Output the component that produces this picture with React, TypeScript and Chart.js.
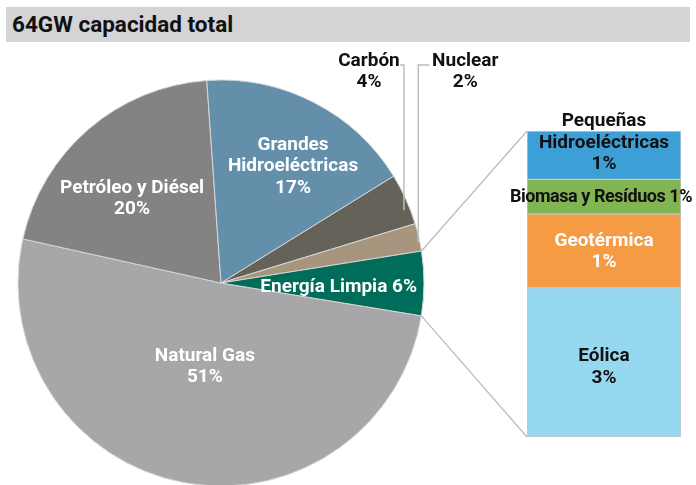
import React, { useEffect, useRef } from 'react';
import { Chart, registerables } from 'chart.js';
Chart.register(...registerables);

const titleText = '64GW capacidad total';

const pieCategories = ['Natural Gas', 'Petróleo y Diésel', 'Grandes Hidroeléctricas', 'Carbón', 'Nuclear', 'Energía Limpia'];
const pieValues = [50.9, 20.4, 17.3, 4.1, 2.2, 5.1];
const pieLabels = [['Natural Gas', '51%'], ['Petróleo y Diésel', '20%'], ['Grandes', 'Hidroeléctricas', '17%'], ['Carbón', '4%'], ['Nuclear', '2%'], ['Energía Limpia 6%']];
const pieColors = ['#a7a7a9', '#858284', '#648fab', '#646259', '#a8957e', '#006c5a'];

const barCategories = ['Eólica', 'Geotérmica', 'Biomasa y Resíduos', 'Pequeñas Hidroeléctricas'];
const barValues = [2.93, 1.44, 0.68, 0.95];
const barLabels = [['Eólica', '3%'], ['Geotérmica', '1%'], ['Biomasa y Resíduos 1%'], ['Pequeñas', 'Hidroeléctricas', '1%']];
const barColors = ['#96d8f0', '#f59b44', '#82b452', '#3ca0d7'];

const FONT = 'Roboto, "Noto Sans", sans-serif';
const W = 696;
const H = 485;

// label placement styles (relative to each arc)
const piePlace = [
  { dA: 0, r: 0.42, color: '#ffffff' },
  { dA: -5.9, r: 0.603, color: '#ffffff' },
  { dA: 4.6, r: 0.675, color: '#ffffff' },
  { dA: 2.66, r: 0.97, color: '#111111', outside: -1, seg: 4, off: 35 },
  { dA: 1.2, r: 0.993, color: '#111111', outside: 1, seg: 11, off: 47 },
  { dA: 1.8, r: 0.58, color: '#ffffff' },
];
const barPlace = [
  { dy: 5, dx: 0, color: '#111111', size: 19, ls: '0px' },
  { dy: 1, dx: 0, color: '#ffffff', size: 19, ls: '0px' },
  { dy: 1, dx: -3, color: '#111111', size: 18, ls: '-0.45px' },
  { dy: -12, dx: 0, color: '#111111', size: 19, ls: '0px' },
];

export default function App() {
  const pieRef = useRef<HTMLCanvasElement | null>(null);
  const barRef = useRef<HTMLCanvasElement | null>(null);

  useEffect(() => {
    const pieLabelPlugin = {
      id: 'pieLabels',
      afterDatasetsDraw(chart: any) {
        const ctx = chart.ctx;
        const meta = chart.getDatasetMeta(0);
        ctx.save();
        ctx.textAlign = 'center';
        ctx.textBaseline = 'middle';
        meta.data.forEach((arc: any, i: number) => {
          const p = arc.getProps(['x', 'y', 'startAngle', 'endAngle', 'outerRadius'], true);
          const pl = piePlace[i];
          const a = (p.startAngle + p.endAngle) / 2 + (pl.dA * Math.PI) / 180;
          const px = p.x + Math.cos(a) * p.outerRadius * pl.r;
          const py = p.y + Math.sin(a) * p.outerRadius * pl.r;
          const lines = pieLabels[i];
          ctx.font = `bold 19px ${FONT}`;
          ctx.fillStyle = pl.color;
          if (pl.outside) {
            const topY = 65;
            ctx.strokeStyle = '#bdbdbd';
            ctx.lineWidth = 1.5;
            ctx.beginPath();
            ctx.moveTo(px, py);
            ctx.lineTo(px, topY);
            ctx.lineTo(px + pl.outside * pl.seg, topY);
            ctx.stroke();
            const cx = px + pl.outside * pl.off;
            lines.forEach((t, k) => ctx.fillText(t, cx, 61 + k * 21.5));
          } else {
            const lh = 21.5;
            lines.forEach((t, k) => ctx.fillText(t, px, py + (k - (lines.length - 1) / 2) * lh));
          }
        });
        ctx.restore();
      },
    };

    const pie = new Chart(pieRef.current as HTMLCanvasElement, {
      type: 'pie',
      data: {
        labels: pieCategories,
        datasets: [
          {
            data: pieValues,
            backgroundColor: pieColors,
            borderColor: '#d6d6d6',
            borderWidth: 1,
            clip: false as any,
          },
        ],
      },
      options: {
        responsive: false,
        animation: false,
        radius: 203,
        rotation: 99.3,
        layout: { padding: { left: 11, right: 265, top: 83, bottom: 2 } },
        plugins: { legend: { display: false }, tooltip: { enabled: false } },
        events: [],
      } as any,
      plugins: [pieLabelPlugin],
    });

    const barPlugin = {
      id: 'barExtras',
      beforeDatasetsDraw(chart: any) {
        const ctx = chart.ctx;
        const pieMeta = pie.getDatasetMeta(0);
        const arc: any = pieMeta.data[pieMeta.data.length - 1];
        if (!arc) return;
        const p = arc.getProps(['x', 'y', 'startAngle', 'endAngle', 'outerRadius'], true);
        const n = chart.data.datasets.length;
        const topEl: any = chart.getDatasetMeta(n - 1).data[0];
        const botEl: any = chart.getDatasetMeta(0).data[0];
        const left = topEl.x - topEl.width / 2;
        ctx.save();
        ctx.strokeStyle = '#bdbdbd';
        ctx.lineWidth = 1.3;
        ctx.beginPath();
        ctx.moveTo(p.x + Math.cos(p.startAngle) * p.outerRadius, p.y + Math.sin(p.startAngle) * p.outerRadius);
        ctx.lineTo(left, topEl.y);
        ctx.moveTo(p.x + Math.cos(p.endAngle) * p.outerRadius, p.y + Math.sin(p.endAngle) * p.outerRadius);
        ctx.lineTo(left, botEl.base);
        ctx.stroke();
        ctx.restore();
      },
      afterDatasetsDraw(chart: any) {
        const ctx = chart.ctx;
        ctx.save();
        ctx.textAlign = 'center';
        ctx.textBaseline = 'middle';
        chart.data.datasets.forEach((_: any, i: number) => {
          const el: any = chart.getDatasetMeta(i).data[0];
          const bp = barPlace[i];
          const cy = (el.y + el.base) / 2 + bp.dy;
          const lines = barLabels[i];
          ctx.font = `bold ${bp.size}px ${FONT}`;
          (ctx as any).letterSpacing = bp.ls;
          ctx.fillStyle = bp.color;
          lines.forEach((t, k) => ctx.fillText(t, el.x + bp.dx, cy + (k - (lines.length - 1) / 2) * 21.5));
        });
        (ctx as any).letterSpacing = '0px';
        ctx.restore();
      },
    };

    const total = barValues.reduce((s, v) => s + v, 0);
    const bar = new Chart(barRef.current as HTMLCanvasElement, {
      type: 'bar',
      data: {
        labels: ['Energía Limpia'],
        datasets: barCategories.map((c, i) => ({
          label: c,
          data: [barValues[i]],
          backgroundColor: barColors[i],
          borderColor: '#c8c8c8',
          borderWidth: 1,
          borderSkipped: false,
          barPercentage: 1,
          categoryPercentage: 1,
        })),
      },
      options: {
        responsive: false,
        animation: false,
        layout: { padding: { left: 527, right: 15, top: 131, bottom: 48 } },
        scales: {
          x: { display: false, stacked: true },
          y: { display: false, stacked: true, min: 0, max: total },
        },
        plugins: { legend: { display: false }, tooltip: { enabled: false } },
        events: [],
      } as any,
      plugins: [barPlugin],
    });

    return () => {
      bar.destroy();
      pie.destroy();
    };
  }, []);

  return (
    <div style={{ position: 'fixed', left: 0, top: 0, width: W, height: H, overflow: 'hidden', background: '#ffffff' }}>
      <div
        style={{
          position: 'absolute',
          left: 6,
          top: 7,
          width: 684,
          height: 35,
          background: '#d4d4d6',
          fontFamily: FONT,
          fontWeight: 700,
          fontSize: 22.5,
          lineHeight: '35px',
          paddingLeft: 6,
          boxSizing: 'border-box',
          color: '#111111',
        }}
      >
        {titleText}
      </div>
      <canvas ref={pieRef} width={W} height={H} style={{ position: 'absolute', left: 0, top: 0 }} />
      <canvas ref={barRef} width={W} height={H} style={{ position: 'absolute', left: 0, top: 0 }} />
    </div>
  );
}
